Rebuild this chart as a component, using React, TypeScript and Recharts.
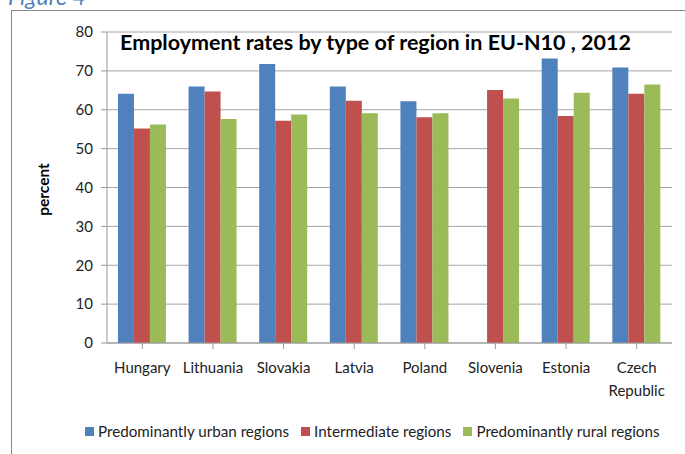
import React from "react";
import { BarChart, Bar, XAxis, YAxis, CartesianGrid, Legend } from "recharts";

const countries = ["Hungary", "Lithuania", "Slovakia", "Latvia", "Poland", "Slovenia", "Estonia", "Czech Republic"];
const urban = [64.1, 66.0, 71.8, 66.0, 62.2, null, 73.2, 70.9];
const intermediate = [55.2, 64.7, 57.2, 62.3, 58.1, 65.1, 58.4, 64.1];
const rural = [56.2, 57.6, 58.8, 59.1, 59.1, 62.9, 64.4, 66.5];
const seriesNames = ["Predominantly urban regions", "Intermediate regions", "Predominantly rural regions"];
const seriesColors = ["#4f81bd", "#c0504d", "#9bbb59"];
const yTicks = [0, 10, 20, 30, 40, 50, 60, 70, 80];
const titleText = "Employment rates by type of region in EU-N10 , 2012";
const yLabel = "percent";
const figureLabel = "Figure 4";

const data = countries.map((c, i) => ({
  name: c,
  urban: urban[i],
  intermediate: intermediate[i],
  rural: rural[i],
}));
const keys = ["urban", "intermediate", "rural"];

const FONT = "Lato, 'Open Sans', sans-serif";

const XTick = (props: any) => {
  const { x, y, payload } = props;
  const words = String(payload.value).split(" ");
  return (
    <g transform={`translate(${x},${y})`}>
      {words.map((w, i) => (
        <text key={i} x={0} y={22 + i * 23} textAnchor="middle" fontSize={15} fill="#222" fontFamily={FONT}>
          {w}
        </text>
      ))}
    </g>
  );
};

const LegendContent = () => (
  <div style={{ display: "flex", alignItems: "center", paddingLeft: 85, fontFamily: FONT, fontSize: 15.2, color: "#222", height: 30 }}>
    {seriesNames.map((n, i) => (
      <div key={n} style={{ display: "flex", alignItems: "center", marginRight: 12 }}>
        <span style={{ display: "inline-block", width: 9, height: 9, background: seriesColors[i], marginRight: 4 }} />
        <span>{n}</span>
      </div>
    ))}
  </div>
);

export default function App() {
  return (
    <div style={{ position: "absolute", left: 0, top: 0, width: 685, height: 454, background: "#fff", overflow: "hidden" }}>
      <div style={{ position: "absolute", left: 8, top: -17, fontFamily: FONT, fontStyle: "italic", fontSize: 23, color: "#4f81bd", lineHeight: "26px" }}>
        {figureLabel}
      </div>
      <div style={{ position: "absolute", left: 11, top: 10, width: 685, height: 454, borderTop: "1px solid #888", borderLeft: "1px solid #888" }} />
      <div style={{ position: "absolute", left: 0, top: 0 }}>
        <BarChart width={685} height={454} data={data} margin={{ top: 32, right: 13, bottom: 8, left: 0 }} barCategoryGap="15.5%" barGap={0}>
          <CartesianGrid vertical={false} stroke="#a6a6a6" />
          <XAxis dataKey="name" height={73} interval={0} tick={<XTick />} tickLine={{ stroke: "#999" }} axisLine={{ stroke: "#999" }} tickSize={6} />
          <YAxis width={107} domain={[0, 80]} ticks={yTicks} interval={0} tick={{ fontSize: 15, fill: "#222", fontFamily: FONT }} tickLine={{ stroke: "#999" }} axisLine={{ stroke: "#999" }} tickSize={6} tickMargin={8}
            label={{ value: yLabel, angle: -90, position: "insideLeft", offset: 43, dy: 2, style: { fontSize: 15.5, fontWeight: 700, fill: "#000", fontFamily: FONT, textAnchor: "middle" } }} />
          <Legend verticalAlign="bottom" height={30} wrapperStyle={{ left: 0, width: 685 }} content={<LegendContent />} />
          {keys.map((k, i) => (
            <Bar key={k} dataKey={k} name={seriesNames[i]} fill={seriesColors[i]} isAnimationActive={false} />
          ))}
        </BarChart>
      </div>
      <div style={{ position: "absolute", left: 120, top: 29, fontFamily: FONT, fontWeight: 700, fontSize: 21.5, color: "#000", whiteSpace: "nowrap" }}>
        {titleText}
      </div>
    </div>
  );
}
